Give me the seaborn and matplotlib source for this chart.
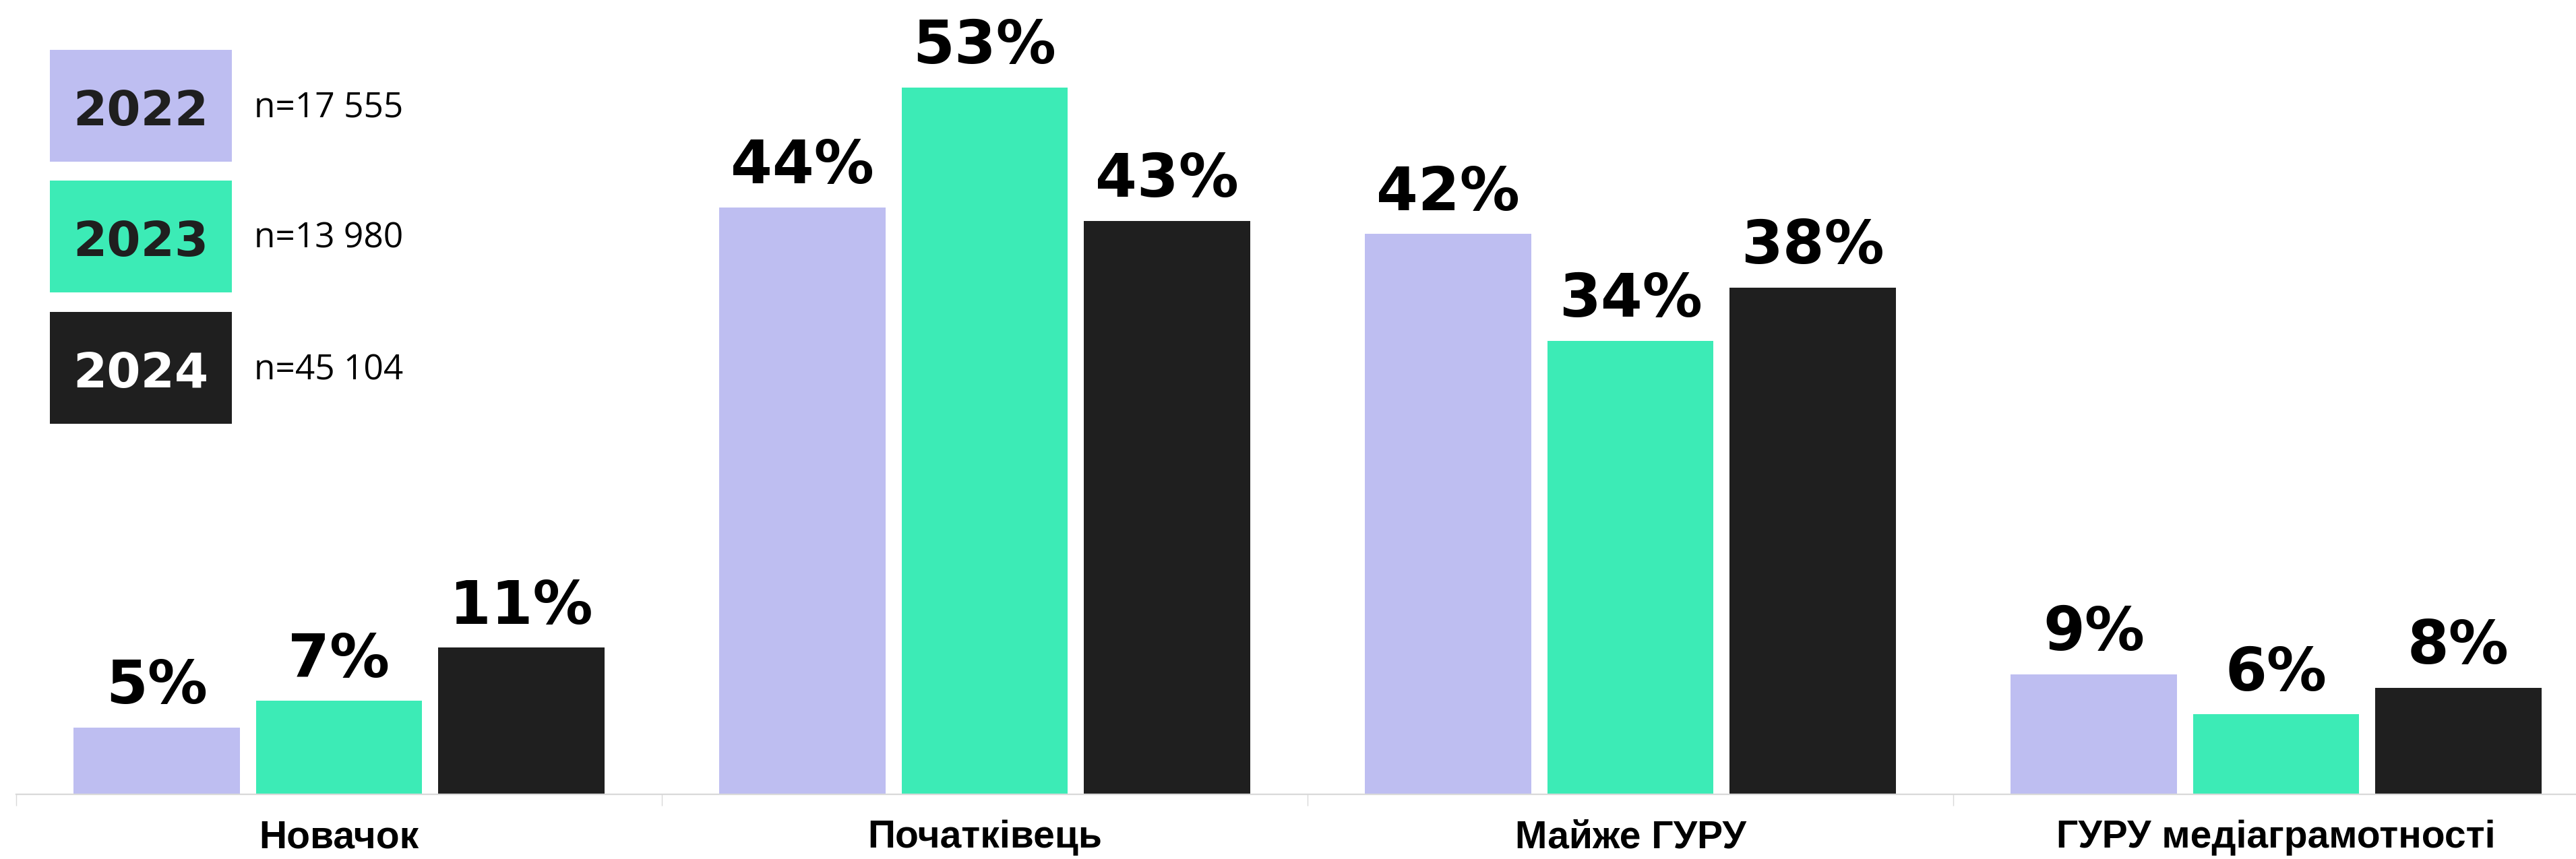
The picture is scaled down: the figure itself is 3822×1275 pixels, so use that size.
import matplotlib
matplotlib.use("Agg")
import matplotlib.pyplot as plt
import seaborn as sns
import pandas as pd
from matplotlib.patches import Rectangle

# data
categories = ["Новачок", "Початківець", "Майже ГУРУ", "ГУРУ медіаграмотності"]
years = ["2022", "2023", "2024"]
sample_sizes = ["n=17 555", "n=13 980", "n=45 104"]
share_2022 = [5, 44, 42, 9]
share_2023 = [7, 53, 34, 6]
share_2024 = [11, 43, 38, 8]

colors = ["#BEBEF1", "#3CEBB6", "#1F1F1F"]
year_text_colors = ["#1F1F1F", "#1F1F1F", "#FFFFFF"]

df = pd.DataFrame({
    "category": categories * len(years),
    "year": [y for y in years for _ in categories],
    "share": share_2022 + share_2023 + share_2024,
})

sns.set_theme(style="white")
plt.rcParams["font.family"] = ["DejaVu Sans"]

W, H = 3822, 1275
fig = plt.figure(figsize=(W / 100, H / 100), dpi=100)
ax = fig.add_axes([24 / W, (H - 1179) / H, 3832 / W, 1089 / H])

sns.barplot(data=df, x="category", y="share", hue="year",
            order=categories, hue_order=years, palette=colors,
            width=0.847, gap=0.09, saturation=1, linewidth=0,
            legend=False, ax=ax)

for cont in ax.containers:
    ax.bar_label(cont, fmt="{:.0f}%", padding=12, fontsize=64,
                 fontweight="bold", color="black")

ax.set_xlim(-0.5, 3.5)
ax.set_ylim(0, 55)
ax.set_yticks([])
ax.set_xlabel("")
ax.set_ylabel("")
for s in ["left", "top", "right"]:
    ax.spines[s].set_visible(False)
ax.spines["bottom"].set_color("#d9d9d9")
ax.spines["bottom"].set_linewidth(1.6)

ax.set_xticks(range(len(categories)))
ax.set_xticklabels(categories, fontsize=41, fontweight="bold",
                   family=["Liberation Sans", "DejaVu Sans"], color="black")
ax.set_xticks([i - 0.5 for i in range(len(categories) + 1)], minor=True)
ax.tick_params(axis="x", which="major", length=0, pad=27)
ax.tick_params(axis="x", which="minor", bottom=True, length=12, width=1,
               color="#d9d9d9")

# custom legend: coloured boxes with year inside, sample size to the right
box_tops = [74, 268, 463]
for i, yr in enumerate(years):
    top = box_tops[i]
    fig.add_artist(Rectangle((74 / W, (H - top - 166) / H), 270 / W, 166 / H,
                             transform=fig.transFigure, color=colors[i], lw=0))
    fig.text(209 / W, (H - top - 112) / H, yr, ha="center", va="baseline",
             fontsize=52, fontweight="bold", color=year_text_colors[i])
    fig.text(377 / W, (H - top - 100) / H, sample_sizes[i], ha="left",
             va="baseline", fontsize=37, family=["Open Sans", "DejaVu Sans"],
             color="black")

fig.savefig("out.png", dpi=100)
